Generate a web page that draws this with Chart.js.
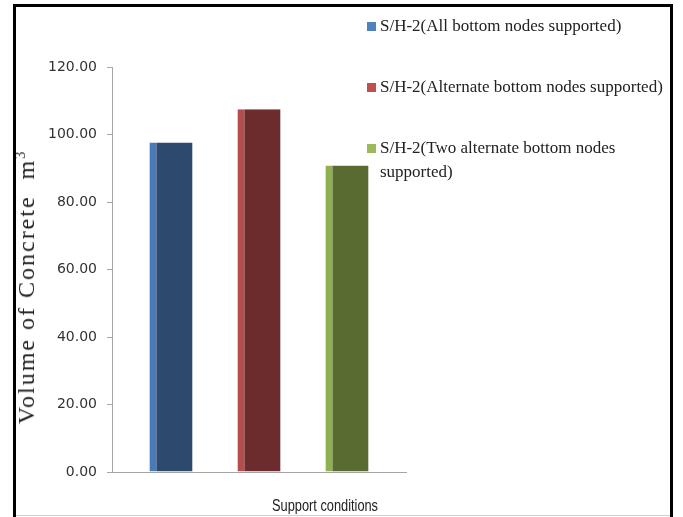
<!DOCTYPE html>
<html>
<head>
<meta charset="utf-8">
<script src="https://cdn.jsdelivr.net/npm/chart.js@4.4.1/dist/chart.umd.min.js"></script>
<style>
  body { margin: 0; background: #fff; }
  #wrap { position: relative; width: 683px; height: 517px; overflow: hidden; }
  #chart { position: absolute; left: 0; top: 0; }
  .frame {
    position: absolute; left: 13px; top: 4px; width: 660px; height: 540px;
    box-sizing: border-box; border: 3px solid #000; pointer-events: none;
  }
  .baseline { position: absolute; left: 16px; top: 515px; width: 654px; height: 1px; background: #cfcfcf; }
  .ytitle {
    position: absolute; left: 26px; top: 287px; white-space: nowrap; line-height: 1;
    transform: translate(-50%, -50%) rotate(-90deg);
    font-family: "Liberation Serif", serif; font-size: 24px; letter-spacing: 2px; color: #222;
  }
  .ytitle sup { font-size: 14px; vertical-align: 9px; line-height: 0; }
  .xtitle {
    position: absolute; left: 325px; top: 506px; white-space: nowrap;
    transform: translate(-50%, -50%) scaleX(0.8);
    font-family: "Liberation Sans", sans-serif; font-size: 16px; color: #222;
  }
  #legend { position: absolute; left: 367px; top: 14px; width: 305px; }
  .item { display: flex; align-items: flex-start; margin-bottom: 37px; }
  .box { width: 9px; height: 9px; margin-top: 8px; margin-right: 4px; flex: none; }
  .item span { font-family: "Liberation Serif", serif; font-size: 17px; line-height: 24px; color: #222; }
</style>
</head>
<body>
<div id="wrap">
  <canvas id="chart" width="683" height="517"></canvas>
  <div class="ytitle">Volume of Concrete &nbsp;m<sup>3</sup></div>
  <div class="xtitle">Support conditions</div>
  <div id="legend"></div>
  <div class="baseline"></div>
  <div class="frame"></div>
</div>
<script>
// one group on the x axis, one bar per support condition
let categories = [''];
let seriesNames = [
  'S/H-2(All bottom nodes supported)',
  'S/H-2(Alternate bottom nodes supported)',
  'S/H-2(Two alternate bottom nodes supported)'
];
let seriesValues = [97.6, 107.5, 90.8];
let yTickValues = [0, 20, 40, 60, 80, 100, 120];

let fillColors = ['#2D4A6E', '#6C2C2D', '#5A6B32'];
let edgeColors = ['#4A7BB8', '#B54D4A', '#8FB04F'];
let keyColors = ['#4F81BD', '#C0504D', '#9BBB59'];

let datasets = seriesNames.map((name, i) => ({
  label: name,
  data: [seriesValues[i]],
  backgroundColor: fillColors[i],
  borderColor: edgeColors[i],
  borderWidth: { left: 7, right: 0, top: 0, bottom: 0 },
  borderSkipped: false,
  categoryPercentage: 0.898,
  barPercentage: 0.49
}));

let ctx = document.getElementById('chart').getContext('2d');
let chart = new Chart(ctx, {
  type: 'bar',
  data: { labels: categories, datasets: datasets },
  options: {
    responsive: false,
    animation: false,
    layout: { padding: { left: 12, right: 277, top: 67, bottom: 45 } },
    plugins: {
      legend: { display: false },
      tooltip: { enabled: false }
    },
    scales: {
      x: {
        grid: { display: false },
        border: { display: true, color: '#A6A6A6', width: 1 },
        ticks: { display: false },
        afterFit: (scale) => { scale.height = 0; }
      },
      y: {
        min: 0,
        max: 120,
        afterBuildTicks: (scale) => { scale.ticks = yTickValues.map(v => ({ value: v })); },
        ticks: {
          padding: 10,
          color: '#333',
          font: { family: 'DejaVu Sans', size: 14 },
          callback: (v) => Number(v).toFixed(2)
        },
        grid: { drawOnChartArea: false, drawTicks: true, tickLength: 5, color: '#A6A6A6' },
        border: { color: '#A6A6A6', width: 1 },
        afterFit: (scale) => { scale.width = 100; }
      }
    }
  }
});

// legend built from the same series names
let legend = document.getElementById('legend');
seriesNames.forEach((name, i) => {
  let item = document.createElement('div');
  item.className = 'item';
  let box = document.createElement('div');
  box.className = 'box';
  box.style.background = keyColors[i];
  let text = document.createElement('span');
  text.textContent = name;
  item.appendChild(box);
  item.appendChild(text);
  legend.appendChild(item);
});
</script>
</body>
</html>
